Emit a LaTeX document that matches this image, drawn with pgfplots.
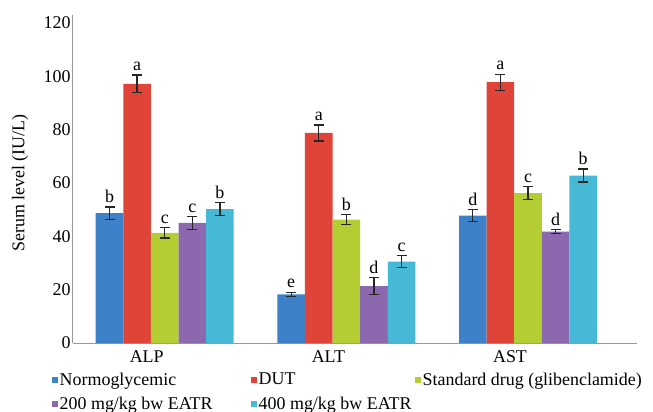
\documentclass[border=0pt]{standalone}
\usepackage{fontspec}
\setmainfont{Liberation Serif}
\usepackage{pgfplots}
\usepackage{pgfplotstable}
\pgfplotsset{compat=1.18}
\definecolor{cNorm}{HTML}{3D82C8}
\definecolor{cDUT}{HTML}{E04338}
\definecolor{cStd}{HTML}{B4CD32}
\definecolor{c200}{HTML}{8C69AF}
\definecolor{c400}{HTML}{46B9D7}
\pgfplotstableread{
x y err lab
0 48.7 2.3 b
1 18.2 0.8 e
2 47.8 2.3 d
}\tNorm
\pgfplotstableread{
x y err lab
0 97.2 3.3 a
1 78.8 3.0 a
2 97.8 3.0 a
}\tDUT
\pgfplotstableread{
x y err lab
0 41.3 1.9 c
1 46.3 1.8 b
2 56.2 2.4 c
}\tStd
\pgfplotstableread{
x y err lab
0 45.0 2.4 c
1 21.3 3.2 d
2 41.8 0.7 d
}\tTwo
\pgfplotstableread{
x y err lab
0 50.2 2.5 b
1 30.5 2.3 c
2 62.8 2.4 b
}\tFour
\newcommand{\fs}{\fontsize{18}{20}\selectfont}
\begin{document}
\begin{tikzpicture}
\begin{axis}[
  at={(0,0)}, anchor=south west,
  scale only axis, width=564bp, height=328bp,
  xmin=-0.505, xmax=2.6, ymin=0, ymax=123,
  ybar=0pt, bar width=27.6bp,
  axis lines=left, axis line style={-, draw=black!40, line width=1bp},
  major tick length=0pt,
  ytick={0,20,...,120},
  xtick={0,1,2}, xticklabels={ALP,ALT,AST},
  xticklabel style={xshift=-18bp, yshift=-4bp},
  yticklabel style={xshift=1bp},
  tick label style={font=\fs},
  /pgf/number format/assume math mode=true,
  ylabel={Serum level (IU/L)},
  ylabel style={font=\fs, at={(axis description cs:-0.094,0.488)}, anchor=center},
  error bars/y dir=both, error bars/y explicit,
  error bars/error bar style={line width=1.3bp, draw=black!85},
  error bars/error mark options={rotate=90, mark size=5bp, line width=1.3bp, draw=black!85},
  point meta=explicit symbolic,
  nodes near coords,
  visualization depends on={\thisrow{err}\as\errv},
  every node near coord/.append style={font=\fs, anchor=south, yshift={\errv*2.667pt}, inner sep=4bp, text=black},
  legend columns=3,
  legend cell align=left,
  legend image code/.code={\fill[#1] (0bp,-3bp) rectangle (6bp,3bp);},
  legend style={at={(axis description cs:0,0)}, anchor=north west, xshift=-21bp, yshift=-28bp,
    draw=none, fill=none, font=\fs, inner sep=0pt, row sep=7bp,
    nodes={inner sep=1.5bp}},
]
\addplot[fill=cNorm, draw=none] table[x=x, y=y, y error=err, meta=lab] {\tNorm};
\addlegendentry{\makebox[190bp][l]{Normoglycemic}}
\addplot[fill=cDUT, draw=none] table[x=x, y=y, y error=err, meta=lab] {\tDUT};
\addlegendentry{\makebox[155bp][l]{DUT}}
\addplot[fill=cStd, draw=none] table[x=x, y=y, y error=err, meta=lab] {\tStd};
\addlegendentry{Standard drug (glibenclamide)}
\addplot[fill=c200, draw=none] table[x=x, y=y, y error=err, meta=lab] {\tTwo};
\addlegendentry{\makebox[190bp][l]{200 mg/kg bw EATR}}
\addplot[fill=c400, draw=none] table[x=x, y=y, y error=err, meta=lab] {\tFour};
\addlegendentry{\makebox[155bp][l]{400 mg/kg bw EATR}}
\end{axis}
\pgfresetboundingbox
\path[use as bounding box] (-73bp,-69bp) rectangle (580bp,343bp);
\end{tikzpicture}
\end{document}
